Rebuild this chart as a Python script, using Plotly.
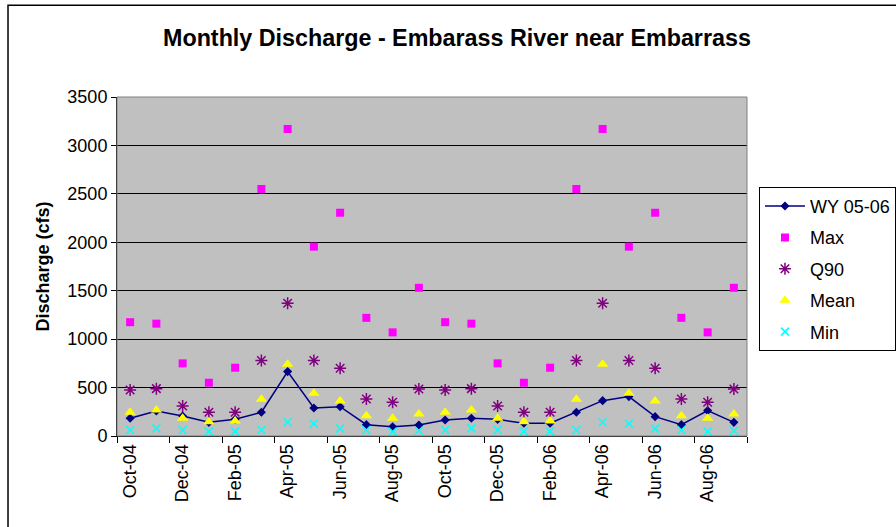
import plotly.graph_objects as go

# month labels, Oct-04 .. Sep-06
months = ['Oct-04', 'Nov-04', 'Dec-04', 'Jan-05', 'Feb-05', 'Mar-05',
          'Apr-05', 'May-05', 'Jun-05', 'Jul-05', 'Aug-05', 'Sep-05',
          'Oct-05', 'Nov-05', 'Dec-05', 'Jan-06', 'Feb-06', 'Mar-06',
          'Apr-06', 'May-06', 'Jun-06', 'Jul-06', 'Aug-06', 'Sep-06']

wy_0506 = [183, 258, 207, 141, 172, 245, 665, 289, 303, 117, 96, 114,
           165, 183, 172, 131, 131, 245, 365, 407, 200, 117, 262, 141]
q_max = [1175, 1160, 750, 550, 705, 2550, 3170, 1955, 2305, 1220, 1070, 1530,
         1175, 1160, 750, 550, 705, 2550, 3170, 1955, 2305, 1220, 1070, 1530]
q90 = [475, 489, 310, 245, 245, 779, 1371, 779, 699, 382, 348, 486,
       475, 489, 310, 245, 245, 779, 1371, 779, 699, 382, 348, 486]
q_mean = [245, 269, 183, 148, 155, 379, 741, 441, 362, 210, 183, 227,
          245, 269, 183, 148, 155, 379, 741, 441, 362, 210, 183, 227]
q_min = [62, 79, 62, 48, 48, 62, 141, 127, 76, 62, 45, 55,
         62, 79, 62, 48, 48, 62, 141, 127, 76, 62, 45, 55]

x = list(range(len(months)))
FONT = 'Liberation Sans, Arial, sans-serif'

fig = go.Figure()
fig.add_trace(go.Scatter(x=x, y=wy_0506, name='WY 05-06', mode='lines+markers',
                         legendgroup='a',
                         line=dict(color='#000080', width=1.5),
                         marker=dict(symbol='diamond', size=7, color='#000080')))
fig.add_trace(go.Scatter(x=x, y=q_max, name='Max', mode='markers', legendgroup='b',
                         marker=dict(symbol='square', size=8, color='#FF00FF')))
fig.add_trace(go.Scatter(x=x, y=q90, name='Q90', mode='markers', legendgroup='c',
                         marker=dict(symbol='asterisk-open', size=10, color='#800080',
                                     line=dict(color='#800080', width=1.5))))
fig.add_trace(go.Scatter(x=x, y=q_mean, name='Mean', mode='markers', legendgroup='d',
                         marker=dict(symbol='triangle-up', size=10, color='#FFFF00')))
fig.add_trace(go.Scatter(x=x, y=q_min, name='Min', mode='markers', legendgroup='e',
                         marker=dict(symbol='x-thin-open', size=8, color='#00FFFF',
                                     line=dict(color='#00FFFF', width=1.5))))

fig.update_layout(
    width=896, height=527,
    margin=dict(l=117, r=149, t=97, b=91, autoexpand=False),
    paper_bgcolor='white', plot_bgcolor='#C0C0C0',
    font=dict(family=FONT, size=18, color='black'),
    showlegend=True,
    legend=dict(x=1.019, y=0.735, xanchor='left', yanchor='top',
                bordercolor='black', borderwidth=1, bgcolor='white',
                tracegroupgap=5, itemwidth=40, font=dict(size=18)),
    xaxis=dict(range=[-0.5, 23.5], tickmode='array', tickvals=x[::2],
               ticktext=months[::2], tickangle=-90, ticks='',
               showgrid=False, zeroline=False,
               showline=True, linecolor='black', linewidth=1, mirror=False,
               minor=dict(tickmode='linear', tick0=-0.5, dtick=2,
                          ticks='outside', ticklen=6, tickcolor='black')),
    yaxis=dict(range=[0, 3500], dtick=500, ticks='outside', ticklen=5,
               tickcolor='black', showgrid=True, gridcolor='black', gridwidth=1,
               zeroline=False, showline=True, linecolor='black', linewidth=1),
    shapes=[
        # plot area frame
        dict(type='rect', xref='paper', yref='paper', x0=0, y0=0, x1=1, y1=1,
             line=dict(color='#808080', width=1)),
        # outer chart border
        dict(type='rect', xref='paper', yref='paper', x0=-0.173, y0=-0.4,
             x1=1.3, y1=1.271, line=dict(color='black', width=1.5)),
    ],
    annotations=[
        dict(text='<b>Monthly Discharge - Embarass River near Embarrass</b>',
             xref='paper', yref='paper', x=(457 - 117) / 630, y=(436 - 38) / 339,
             xanchor='center', yanchor='middle', showarrow=False,
             font=dict(size=23.3)),
        dict(text='<b>Discharge (cfs)</b>', xref='paper', yref='paper',
             x=(42 - 117) / 630, y=0.5, textangle=-90, xanchor='center',
             yanchor='middle', showarrow=False, font=dict(size=18)),
    ],
)

# drop the default page margin so the figure sits at the window's corner
fig.write_html("out.html", config={'displayModeBar': False},
               post_script="document.body.style.margin='0';"
                           "document.body.style.overflow='hidden';")
